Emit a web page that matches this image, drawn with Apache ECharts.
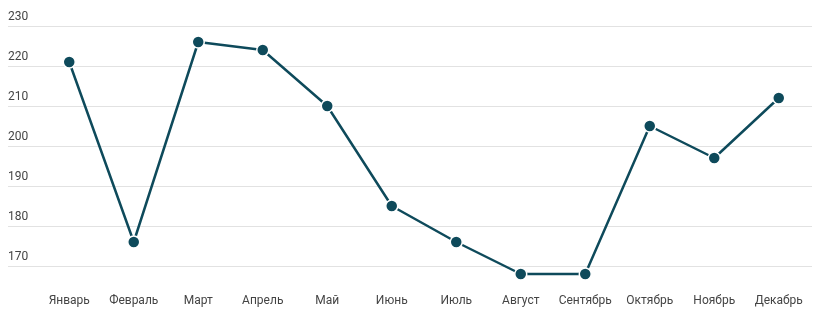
<!DOCTYPE html>
<html>
<head>
<meta charset="utf-8">
<script src="https://cdn.jsdelivr.net/npm/echarts@6/dist/echarts.min.js"></script>
<style>html,body{margin:0;padding:0;background:#fff}#c{width:827px;height:321px}</style>
</head>
<body>
<div id="c"></div>
<script>
var months = ['Январь','Февраль','Март','Апрель','Май','Июнь','Июль','Август','Сентябрь','Октябрь','Ноябрь','Декабрь'];
var values = [221, 176, 226, 224, 210, 185, 176, 168, 168, 205, 197, 212];
var yMin = 170, yMax = 230, yStep = 10;

var chart = echarts.init(document.getElementById('c'));
var font = 'Roboto, "Noto Sans", sans-serif';
chart.setOption({
  animation: false,
  grid: [
    {left: 8, right: 15, top: 26, bottom: 55},
    {left: 37, right: 16, top: 26, bottom: 55}
  ],
  xAxis: [
    {gridIndex: 0, type: 'category', data: months, show: false},
    {gridIndex: 1, type: 'category', data: months,
     axisLine: {show: false}, axisTick: {show: false},
     axisLabel: {margin: 29, color: '#444', fontSize: 12, fontFamily: font, interval: 0}}
  ],
  yAxis: [
    {gridIndex: 0, type: 'value', min: yMin, max: yMax, interval: yStep,
     axisLine: {show: false}, axisTick: {show: false},
     splitLine: {lineStyle: {color: '#e2e2e2', width: 1}},
     axisLabel: {inside: true, margin: 0, verticalAlign: 'bottom', padding: [0, 0, 3, 0],
                 color: '#444', fontSize: 12, fontFamily: font}},
    {gridIndex: 1, type: 'value', min: yMin, max: yMax, interval: yStep, show: false,
     splitLine: {show: false}}
  ],
  series: [{
    type: 'line',
    xAxisIndex: 1, yAxisIndex: 1,
    data: values,
    clip: false,
    symbol: 'circle',
    symbolSize: 12,
    lineStyle: {color: '#0e4a5b', width: 2.5},
    itemStyle: {color: '#0e4a5b', borderColor: '#ffffff', borderWidth: 1.5}
  }]
});
</script>
</body>
</html>
